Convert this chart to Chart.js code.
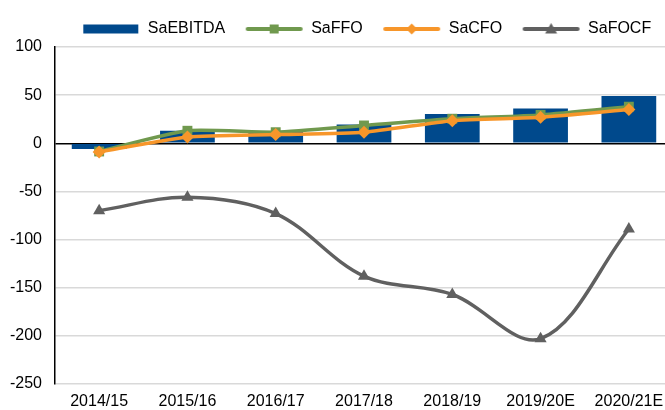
<!DOCTYPE html>
<html>
<head>
<meta charset="utf-8">
<script src="https://cdn.jsdelivr.net/npm/chart.js@4/dist/chart.umd.min.js"></script>
<style>
  html, body { margin: 0; padding: 0; background: #fff; overflow: hidden; }
  #wrap { width: 680px; height: 410px; }
</style>
</head>
<body>
<div id="wrap"><canvas id="chart"></canvas></div>
<script>
// categories
const years = ['2014/15', '2015/16', '2016/17', '2017/18', '2018/19', '2019/20E', '2020/21E'];

// series values
const saEBITDA = [-6, 13, 12, 19.5, 30.5, 36, 49];
const saFFO = [-8.5, 13, 11.5, 18.5, 25.5, 29.5, 38];
const saCFO = [-9, 6.5, 9, 11.5, 23.5, 27, 35];
const saFOCF = [-70, -56, -73, -138, -157, -203, -89];

// y axis range
const yMin = -250;
const yMax = 100;
const yStep = 50;

const BLUE = '#00498c';
const GREEN = '#70994e';
const ORANGE = '#f7962a';
const GREY = '#606060';
const FONT = '"Liberation Sans", Arial, sans-serif';

// small canvases used as legend symbols (line with marker / bar block)
function legendIcon(kind, color) {
    const c = document.createElement('canvas');
    c.width = 80;
    c.height = 14;
    const g = c.getContext('2d');
    const x0 = 15, x1 = 70, cy = 7, mx = (x0 + x1) / 2;
    g.fillStyle = color;
    g.strokeStyle = color;
    if (kind === 'bar') {
        g.fillRect(x0, cy - 4.5, x1 - x0, 9);
        return c;
    }
    g.lineWidth = 4;
    g.lineCap = 'round';
    g.beginPath();
    g.moveTo(x0 + 1, cy);
    g.lineTo(x1 - 1, cy);
    g.stroke();
    g.beginPath();
    if (kind === 'rect') {
        g.rect(mx - 4.5, cy - 4.5, 9, 9);
    } else if (kind === 'rectRot') {
        g.moveTo(mx, cy - 5.5);
        g.lineTo(mx + 5.5, cy);
        g.lineTo(mx, cy + 5.5);
        g.lineTo(mx - 5.5, cy);
    } else {
        g.moveTo(mx, cy - 6);
        g.lineTo(mx + 6, cy + 4.5);
        g.lineTo(mx - 6, cy + 4.5);
    }
    g.closePath();
    g.fill();
    return c;
}

const legendItems = [
    { text: 'SaEBITDA', icon: legendIcon('bar', BLUE), datasetIndex: 0 },
    { text: 'SaFFO', icon: legendIcon('rect', GREEN), datasetIndex: 1 },
    { text: 'SaCFO', icon: legendIcon('rectRot', ORANGE), datasetIndex: 2 },
    { text: 'SaFOCF', icon: legendIcon('triangle', GREY), datasetIndex: 3 }
];

const ctx = document.getElementById('chart').getContext('2d');
new Chart(ctx, {
    type: 'bar',
    data: {
        labels: years,
        datasets: [
            {
                type: 'bar',
                label: 'SaEBITDA',
                data: saEBITDA,
                backgroundColor: BLUE,
                barPercentage: 0.62,
                categoryPercentage: 1,
                order: 4
            },
            {
                type: 'line',
                label: 'SaFFO',
                data: saFFO,
                borderColor: GREEN,
                backgroundColor: GREEN,
                borderWidth: 3.5,
                pointStyle: 'rect',
                pointRadius: 7,
                pointBorderWidth: 0,
                tension: 0.2,
                order: 3
            },
            {
                type: 'line',
                label: 'SaCFO',
                data: saCFO,
                borderColor: ORANGE,
                backgroundColor: ORANGE,
                borderWidth: 3.5,
                pointStyle: 'rectRot',
                pointRadius: 6.5,
                pointBorderWidth: 0,
                tension: 0.2,
                order: 2
            },
            {
                type: 'line',
                label: 'SaFOCF',
                data: saFOCF,
                borderColor: GREY,
                backgroundColor: GREY,
                borderWidth: 3.5,
                pointStyle: 'triangle',
                pointRadius: 7,
                pointBorderWidth: 0,
                tension: 0.35,
                order: 1
            }
        ]
    },
    options: {
        responsive: true,
        maintainAspectRatio: false,
        animation: false,
        layout: { padding: { top: 3, right: 5, bottom: 0, left: 0 } },
        font: { family: FONT, size: 16 },
        plugins: {
            tooltip: { enabled: false },
            legend: {
                position: 'top',
                fullSize: false,
                labels: {
                    color: '#000',
                    font: { family: FONT, size: 16 },
                    usePointStyle: true,
                    pointStyleWidth: 63,
                    padding: 15,
                    generateLabels: () => legendItems.map(it => ({
                        text: it.text,
                        pointStyle: it.icon,
                        datasetIndex: it.datasetIndex,
                        hidden: false,
                        fontColor: '#000',
                        lineWidth: 0
                    }))
                }
            }
        },
        scales: {
            x: {
                offset: true,
                afterFit: s => { s.height = 26; },
                grid: { display: false, drawTicks: false },
                border: { display: false },
                ticks: {
                    color: '#000',
                    padding: 8,
                    maxRotation: 0,
                    autoSkip: false,
                    font: { family: FONT, size: 16 }
                }
            },
            y: {
                min: yMin,
                max: yMax,
                afterFit: s => { s.width = 55; s.paddingTop = 47; },
                grid: {
                    drawTicks: false,
                    lineWidth: 1.5,
                    color: c => (c.tick && c.tick.value === 0 ? '#000' : '#d9d9d9')
                },
                border: { display: true, color: '#000', width: 1.5 },
                ticks: {
                    stepSize: yStep,
                    color: '#000',
                    padding: 13,
                    font: { family: FONT, size: 16 }
                }
            }
        }
    }
});
</script>
</body>
</html>
